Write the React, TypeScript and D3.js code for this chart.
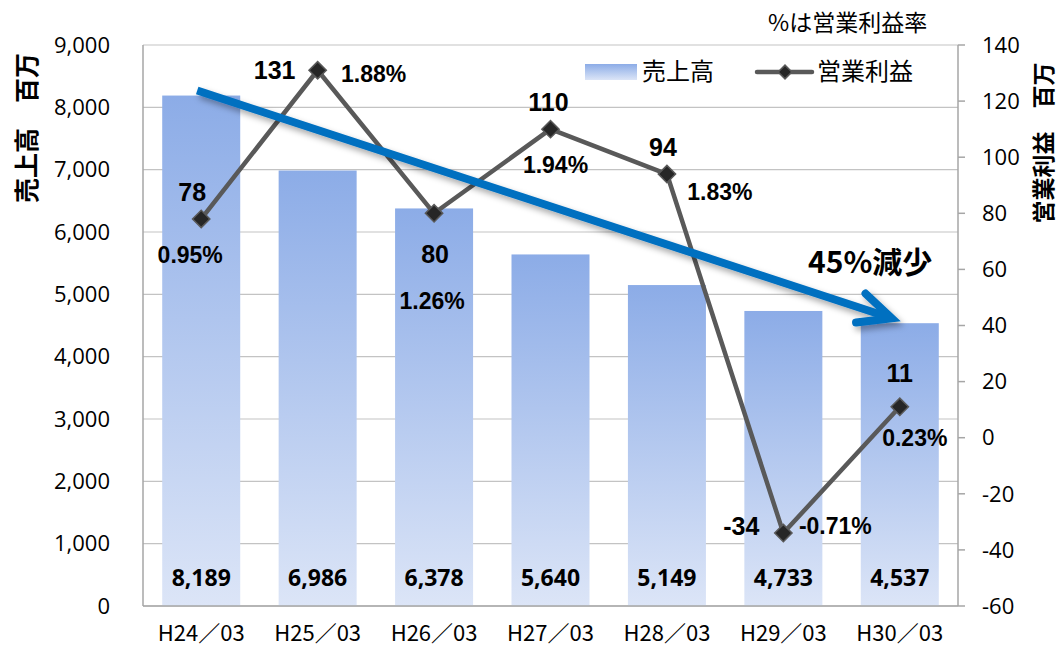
import React from "react";
import * as d3 from "d3";

const categories = ["H24/03", "H25/03", "H26/03", "H27/03", "H28/03", "H29/03", "H30/03"];
const sales = [8189, 6986, 6378, 5640, 5149, 4733, 4537];
const profit = [78, 131, 80, 110, 94, -34, 11];
const margin = ["0.95%", "1.88%", "1.26%", "1.94%", "1.83%", "-0.71%", "0.23%"];
const salesTicks = [0, 1000, 2000, 3000, 4000, 5000, 6000, 7000, 8000, 9000];
const profitTicks = [-60, -40, -20, 0, 20, 40, 60, 80, 100, 120, 140];

// label placement (layout only), offsets from the point
const valueOffsets: [number, number][] = [[-9, -27], [-43, 0], [1, 41], [-2, -27], [-4, -27], [-42, -7], [0, -34]];
const pctOffsets: [number, number][] = [[-11, 36], [56, 4], [-2, 88], [5, 36], [53, 18], [52, -7], [15, 31]];

const W = 1060, H = 649;
const L = 143, R = 958, T = 45, B = 606;

const JP = "'Noto Sans CJK JP', sans-serif";
const NUM = "'Open Sans', 'Noto Sans CJK JP', sans-serif";
const BOLD = "'Liberation Sans', Arial, sans-serif";

export default function App() {
  const x = d3.scaleBand<string>().domain(categories).range([L, R]).paddingInner(0.33).paddingOuter(0.165);
  const yS = d3.scaleLinear().domain([0, 9000]).range([B, T]);
  const yP = d3.scaleLinear().domain([-60, 140]).range([B, T]);
  const cx = (i: number) => (x(categories[i]) as number) + x.bandwidth() / 2;

  const line = d3.line<number>().x((_, i) => cx(i)).y((d) => yP(d));
  const diamond = d3.symbol().type(d3.symbolSquare).size(150)();
  const diamondSmall = d3.symbol().type(d3.symbolSquare).size(95)();

  // arrow annotation from first bar top to last bar top
  const n = categories.length - 1;
  const a0: [number, number] = [cx(0) - 4, yS(sales[0]) - 5];
  const a1: [number, number] = [cx(n) - 8, yS(sales[n]) - 5];
  const ang = Math.atan2(a1[1] - a0[1], a1[0] - a0[0]);
  const armLen = 36, spread = (25 * Math.PI) / 180;
  const arm = (s: number): [number, number] => [
    a1[0] - armLen * Math.cos(ang + s),
    a1[1] - armLen * Math.sin(ang + s),
  ];
  const armA = arm(spread), armB = arm(-spread);

  return (
    <svg width={W} height={H} style={{ position: "absolute", left: 0, top: 0, background: "#fff" }}>
      <defs>
        <linearGradient id="barGrad" x1="0" y1="0" x2="0" y2="1">
          <stop offset="0" stopColor="#8CACE7" />
          <stop offset="1" stopColor="#DCE5F7" />
        </linearGradient>
        <filter id="shadow" x="-10%" y="-50%" width="120%" height="200%">
          <feDropShadow dx="3" dy="4" stdDeviation="3" floodColor="#000" floodOpacity="0.35" />
        </filter>
      </defs>

      {/* gridlines */}
      {salesTicks.map((t) => (
        <line key={"g" + t} x1={L} x2={R} y1={yS(t)} y2={yS(t)} stroke="#C3C3C3" strokeWidth={1.2} />
      ))}

      {/* bars */}
      {sales.map((v, i) => (
        <rect key={"b" + i} x={x(categories[i])} y={yS(v)} width={x.bandwidth()} height={yS(0) - yS(v)} fill="url(#barGrad)" />
      ))}

      {/* axes */}
      <line x1={L} x2={L} y1={T} y2={B} stroke="#A6A6A6" strokeWidth={1.5} />
      <line x1={L} x2={R} y1={B} y2={B} stroke="#A6A6A6" strokeWidth={1.5} />
      <line x1={R} x2={R} y1={T} y2={B} stroke="#A6A6A6" strokeWidth={1.5} />
      {profitTicks.map((t) => (
        <line key={"rt" + t} x1={R} x2={R + 7} y1={yP(t)} y2={yP(t)} stroke="#A6A6A6" strokeWidth={1.5} />
      ))}

      {/* left tick labels */}
      {salesTicks.map((t) => (
        <text key={"lt" + t} x={110} y={yS(t)} dy="0.35em" textAnchor="end" fontFamily={NUM} fontSize={22} fill="#000">
          {d3.format(",")(t)}
        </text>
      ))}
      {/* right tick labels */}
      {profitTicks.map((t) => (
        <text key={"rl" + t} x={982} y={yP(t)} dy="0.35em" textAnchor="start" fontFamily={NUM} fontSize={22} fill="#000">
          {t}
        </text>
      ))}
      {/* category labels */}
      {categories.map((c, i) => (
        <text key={"c" + c} x={cx(i)} y={641} textAnchor="middle" fontFamily={JP} fontSize={22} fill="#000">
          {c.replace("/", "／")}
        </text>
      ))}

      {/* bar value labels */}
      {sales.map((v, i) => (
        <text key={"bv" + i} x={cx(i)} y={578} dy="0.35em" textAnchor="middle" fontFamily={NUM} fontWeight={700} fontSize={23} fill="#000">
          {d3.format(",")(v)}
        </text>
      ))}

      {/* profit line */}
      <path d={line(profit) || ""} fill="none" stroke="#595959" strokeWidth={4.5} strokeLinejoin="round" />
      {profit.map((v, i) => (
        <path key={"m" + i} d={diamond || ""} transform={`translate(${cx(i)},${yP(v)}) rotate(45)`} fill="#262626" stroke="#595959" strokeWidth={1.5} />
      ))}

      {/* profit labels */}
      {profit.map((v, i) => (
        <text key={"pv" + i} x={cx(i) + valueOffsets[i][0]} y={yP(v) + valueOffsets[i][1]} dy="0.35em" textAnchor="middle" fontFamily={BOLD} fontWeight={700} fontSize={25} fill="#000">
          {v}
        </text>
      ))}
      {margin.map((m, i) => (
        <text key={"pm" + i} x={cx(i) + pctOffsets[i][0]} y={yP(profit[i]) + pctOffsets[i][1]} dy="0.35em" textAnchor="middle" fontFamily={BOLD} fontWeight={700} fontSize={23} fill="#000">
          {m}
        </text>
      ))}

      {/* arrow */}
      <g filter="url(#shadow)">
        <line x1={a0[0]} y1={a0[1]} x2={a1[0]} y2={a1[1]} stroke="#0070C0" strokeWidth={8} />
        <path d={`M${armA[0]},${armA[1]}L${a1[0]},${a1[1]}L${armB[0]},${armB[1]}`} fill="none" stroke="#0070C0" strokeWidth={8} strokeLinejoin="miter" strokeLinecap="round" />
      </g>
      <text x={808} y={262} dy="0.35em" fontFamily={JP} fontWeight={700} fontSize={30} fill="#000">45%減少</text>

      {/* legend */}
      <rect x={585} y={64} width={52} height={16} fill="url(#barGrad)" />
      <text x={642} y={72} dy="0.35em" fontFamily={JP} fontSize={24} fill="#000">売上高</text>
      <line x1={757} x2={812} y1={72} y2={72} stroke="#595959" strokeWidth={4.5} strokeLinecap="round" />
      <path d={diamondSmall || ""} transform="translate(785,72) rotate(45)" fill="#262626" stroke="#595959" strokeWidth={1.5} />
      <text x={817} y={72} dy="0.35em" fontFamily={JP} fontSize={24} fill="#000">営業利益</text>

      <text x={768} y={23} dy="0.35em" fontFamily={JP} fontSize={23} fill="#000">%は営業利益率</text>

      {/* axis titles */}
      <text transform="translate(27,128) rotate(-90)" textAnchor="middle" dy="0.35em" fontFamily={JP} fontWeight={700} fontSize={25} fill="#000">売上高　百万</text>
      <text transform="translate(1044,143) rotate(-90)" textAnchor="middle" dy="0.35em" fontFamily={JP} fontWeight={700} fontSize={23} fill="#000">営業利益　百万</text>
    </svg>
  );
}
